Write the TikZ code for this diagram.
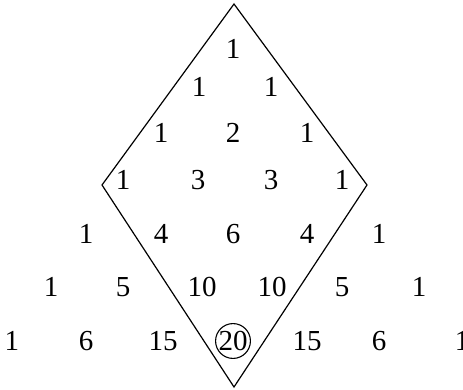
\documentclass[tikz,border=0pt]{standalone}
\usepackage{fontspec}
\setmainfont{Liberation Serif}
\begin{document}
\begin{tikzpicture}[x=1pt,y=-1pt,
  num/.style={inner sep=0pt,font=\fontsize{29}{29}\selectfont},
  circ/.style={draw,circle,line width=1.1pt,minimum size=33pt,inner sep=0pt,font=\fontsize{29}{29}\selectfont},
  frame/.style={line width=1.2pt,line join=miter}]
\useasboundingbox (0,0) rectangle (463,390);
% diamond
\coordinate (T) at (234,4);
\coordinate (L) at (102,185);
\coordinate (R) at (367,185);
\coordinate (B) at (234,387);
\draw[frame] (T) -- (R) -- (B) -- (L) -- cycle;
% row 0
\node[num] (r0a) at (233,49) {1};
% row 1
\node[num] (r1a) at (199,87) {1};
\node[num] (r1b) at (271,87) {1};
% row 2
\node[num] (r2a) at (161,133) {1};
\node[num] (r2b) at (233,133) {2};
\node[num] (r2c) at (307,133) {1};
% row 3
\node[num] (r3a) at (123,180) {1};
\node[num] (r3b) at (198,180) {3};
\node[num] (r3c) at (271,180) {3};
\node[num] (r3d) at (342,180) {1};
% row 4
\node[num] (r4a) at (86,234) {1};
\node[num] (r4b) at (161,234) {4};
\node[num] (r4c) at (233,234) {6};
\node[num] (r4d) at (307,234) {4};
\node[num] (r4e) at (379,234) {1};
% row 5
\node[num] (r5a) at (51,287) {1};
\node[num] (r5b) at (123,287) {5};
\node[num] (r5c) at (202,287) {10};
\node[num] (r5d) at (272,287) {10};
\node[num] (r5e) at (342,287) {5};
\node[num] (r5f) at (419,287) {1};
% row 6
\node[num] (r6a) at (12,341) {1};
\node[num] (r6b) at (86,341) {6};
\node[num] (r6c) at (163,341) {15};
\node[circ] (r6d) at (233,341) {20};
\node[num] (r6e) at (307,341) {15};
\node[num] (r6f) at (379,341) {6};
\node[num] (r6g) at (462,341) {1};
\end{tikzpicture}
\end{document}
